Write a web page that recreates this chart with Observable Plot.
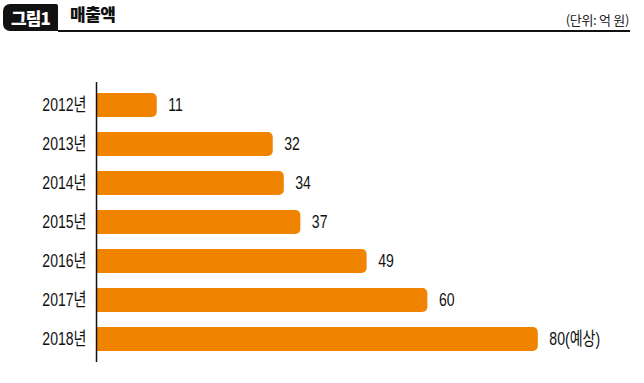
<!DOCTYPE html>
<html><head><meta charset="utf-8">
<script src="https://cdn.jsdelivr.net/npm/d3@7"></script>
<script src="https://cdn.jsdelivr.net/npm/@observablehq/plot@0.6"></script>
<style>
body{margin:0;background:#fff;width:644px;height:383px;overflow:hidden;position:relative;font-family:"Liberation Sans","Noto Sans CJK KR",sans-serif;}
#hdr{position:relative;height:40px;}
#tab{position:absolute;left:3px;top:4px;width:55px;height:27px;background:#111;border-radius:7px 2px 0 7px;color:#fff;font:900 17px "Noto Sans CJK KR",sans-serif;line-height:27px;text-align:center;letter-spacing:-0.8px;}
#title{position:absolute;left:70px;top:3px;font:900 17px "Noto Sans CJK KR",sans-serif;line-height:22px;color:#111;letter-spacing:-0.5px;}
#unit{position:absolute;right:15px;top:12px;font:400 13px "Noto Sans CJK KR",sans-serif;line-height:16px;color:#222;letter-spacing:-0.3px;}
#line{position:absolute;left:58px;width:572px;top:30px;height:1.5px;background:#111;}
#chart svg{display:block;}
</style></head>
<body>
<div id="hdr"><div id="tab">그림1</div><div id="title">매출액</div><div id="unit">(단위: 억 원)</div><div id="line"></div></div>
<div id="chart"></div>
<script>
const years = ["2012년","2013년","2014년","2015년","2016년","2017년","2018년"];
const values = [11, 32, 34, 37, 49, 60, 80];
const labels = ["11","32","34","37","49","60","80(예상)"];
const data = years.map((y,i)=>({year:y, value:values[i], label:labels[i]}));
const color = "#f08400";
const chart = Plot.plot({
  width: 644, height: 343,
  marginLeft: 96, marginRight: 20, marginTop: 42, marginBottom: 21,
  style: {fontFamily: '"Liberation Sans","Noto Sans CJK KR",sans-serif', fontSize: "18.5px", color: "#111", background: "#fff"},
  x: {domain: [0, 95.6], axis: null},
  y: {domain: years, paddingInner: 0.386, paddingOuter: 0.273, label: null, tickSize: 0, tickPadding: 10},
  marks: [
    Plot.barX(data, {y: "year", x1: 0, x2: "value", fill: color, rx: 5}),
    Plot.barX(data, {y: "year", x1: 0, x2: d => d.value / 2, fill: color}),
    Plot.text(data, {y: "year", x: "value", text: "label", textAnchor: "start", dx: 11, fill: "#111", fontSize: 18.5}),
    Plot.ruleX([0], {stroke: "#111", strokeWidth: 1.5}),
    Plot.axisY({tickSize: 0, tickPadding: 10, fontSize: 18.5, label: null})
  ]
});
// narrow the text horizontally around each anchor
chart.querySelectorAll("text").forEach(t => {
  const tr = t.getAttribute("transform");
  if (tr && tr.includes("translate")) t.setAttribute("transform", tr + " scale(0.76,1)");
});
document.getElementById("chart").appendChild(chart);
</script>
</body></html>
